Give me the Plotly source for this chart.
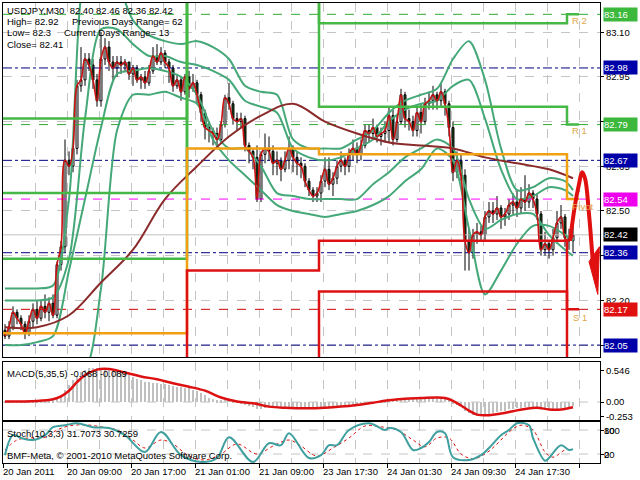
import plotly.graph_objects as go
from plotly.subplots import make_subplots

# ---------------- data ----------------
bar_idx = list(range(143))
opens = [82.10,82.08,82.11,82.16,82.14,82.12,82.09,82.13,82.17,82.14,82.18,82.16,82.19,82.15,82.32,82.38,82.67,82.65,82.71,82.92,
         82.94,83.01,82.99,82.94,82.87,83.01,83.05,83.00,82.98,83.00,82.99,83.00,82.96,82.98,82.94,82.95,82.93,82.97,83.02,83.00,
         83.03,83.00,82.98,82.92,82.94,82.90,82.95,82.91,82.93,82.89,82.83,82.78,82.77,82.76,82.74,82.79,82.88,82.86,82.81,82.80,
         82.81,82.72,82.70,82.68,82.54,82.69,82.71,82.70,82.66,82.67,82.64,82.67,82.71,82.68,82.66,82.65,82.60,82.57,82.55,82.56,
         82.60,82.64,82.59,82.61,82.65,82.67,82.65,82.69,82.71,82.69,82.72,82.77,82.76,82.78,82.75,82.76,82.77,82.82,82.74,82.80,
         82.89,82.81,82.80,82.77,82.83,82.80,82.86,82.87,82.89,82.87,82.90,82.86,82.78,82.63,82.67,82.62,82.40,82.36,82.42,82.43,
         82.42,82.48,82.50,82.49,82.51,82.48,82.49,82.52,82.53,82.51,82.54,82.53,82.56,82.54,82.49,82.37,82.39,82.37,82.41,82.46,
         82.48,82.41,82.40]
highs = [82.12,82.13,82.18,82.17,82.15,82.13,82.15,82.19,82.20,82.20,82.22,82.21,82.22,82.33,82.40,82.74,82.70,82.73,82.94,83.05,
         83.03,83.03,83.01,82.96,83.10,83.08,83.07,83.02,83.02,83.02,83.01,83.00,82.99,82.99,82.96,82.97,82.99,83.05,83.06,83.05,
         83.04,83.01,82.99,82.96,82.95,82.96,82.97,82.96,82.94,82.90,82.84,82.80,82.78,82.78,82.80,82.89,82.93,82.87,82.83,82.83,
         82.82,82.73,82.71,82.72,82.70,82.76,82.75,82.72,82.70,82.68,82.70,82.75,82.72,82.70,82.68,82.66,82.61,82.58,82.58,82.62,
         82.68,82.68,82.63,82.67,82.70,82.68,82.71,82.74,82.73,82.74,82.79,82.79,82.81,82.79,82.78,82.80,82.85,82.84,82.82,82.91,
         82.90,82.84,82.82,82.85,82.86,82.88,82.90,82.92,82.90,82.93,82.91,82.87,82.80,82.70,82.69,82.64,82.44,82.44,82.46,82.45,
         82.50,82.53,82.53,82.55,82.52,82.51,82.54,82.56,82.57,82.58,82.62,82.59,82.57,82.56,82.50,82.43,82.40,82.44,82.50,82.52,
         82.49,82.44,82.46]
lows = [82.07,82.07,82.10,82.12,82.10,82.07,82.08,82.11,82.12,82.13,82.14,82.13,82.14,82.14,82.30,82.36,82.62,82.63,82.69,82.90,
        82.92,82.97,82.91,82.85,82.85,82.99,82.97,82.94,82.95,82.96,82.97,82.94,82.92,82.93,82.91,82.91,82.92,82.96,82.99,82.99,
        82.98,82.93,82.90,82.91,82.87,82.89,82.88,82.90,82.86,82.80,82.74,82.73,82.72,82.71,82.73,82.78,82.84,82.79,82.77,82.78,
        82.70,82.66,82.64,82.53,82.53,82.66,82.67,82.62,82.62,82.60,82.63,82.64,82.63,82.62,82.61,82.58,82.55,82.53,82.53,82.53,
        82.58,82.57,82.55,82.59,82.63,82.62,82.63,82.67,82.66,82.67,82.71,82.73,82.74,82.73,82.72,82.73,82.73,82.72,82.73,82.79,
        82.78,82.77,82.75,82.75,82.76,82.79,82.84,82.84,82.84,82.85,82.82,82.75,82.60,82.61,82.60,82.30,82.30,82.34,82.39,82.40,
        82.40,82.46,82.46,82.47,82.44,82.45,82.47,82.49,82.48,82.49,82.50,82.51,82.51,82.47,82.35,82.35,82.34,82.35,82.39,82.44,
        82.38,82.37,82.36]
closes = [82.08,82.11,82.16,82.14,82.12,82.09,82.13,82.17,82.14,82.18,82.16,82.19,82.15,82.32,82.38,82.67,82.65,82.71,82.92,82.94,
          83.01,82.99,82.94,82.87,83.01,83.05,83.00,82.98,83.00,82.99,83.00,82.96,82.98,82.94,82.95,82.93,82.97,83.02,83.00,83.03,
          83.00,82.98,82.92,82.94,82.90,82.95,82.91,82.93,82.89,82.83,82.78,82.77,82.76,82.74,82.79,82.88,82.86,82.81,82.80,82.81,
          82.72,82.70,82.68,82.54,82.69,82.71,82.70,82.66,82.67,82.64,82.67,82.71,82.68,82.66,82.65,82.60,82.57,82.55,82.56,82.60,
          82.64,82.59,82.61,82.65,82.67,82.65,82.69,82.71,82.69,82.72,82.77,82.76,82.78,82.75,82.76,82.77,82.82,82.74,82.80,82.89,
          82.81,82.80,82.77,82.83,82.80,82.86,82.87,82.89,82.87,82.90,82.86,82.78,82.63,82.67,82.62,82.40,82.36,82.42,82.43,82.42,
          82.48,82.50,82.49,82.51,82.48,82.49,82.52,82.53,82.51,82.54,82.53,82.56,82.54,82.49,82.37,82.39,82.37,82.41,82.46,82.48,
          82.41,82.40,82.42]

# band / moving-average curves read at every 4th bar
band_bars = [0,4,8,12,16,20,24,28,32,36,40,44,48,52,56,60,64,68,72,76,80,84,88,92,96,100,104,108,112,116,120,124,128,132,136,140,142]
upper_outer = [82.24,82.24,82.24,82.25,82.54,83.31,83.41,83.28,83.14,83.09,83.07,83.06,83.07,83.05,83.01,82.92,82.90,82.89,82.74,82.71,
               82.71,82.71,82.74,82.77,82.83,82.87,82.89,82.91,83.01,83.07,82.94,82.71,82.57,82.58,82.61,82.60,82.57]
upper_inner = [82.20,82.20,82.20,82.21,82.34,82.81,83.11,83.11,83.06,83.02,83.02,83.00,82.99,82.97,82.94,82.87,82.85,82.83,82.71,82.68,
               82.67,82.68,82.71,82.74,82.80,82.84,82.86,82.87,82.92,82.94,82.81,82.64,82.54,82.55,82.58,82.57,82.55]
lower_inner = [82.05,82.05,82.06,82.08,82.30,82.54,82.78,82.96,82.97,82.98,82.97,82.95,82.89,82.77,82.71,82.71,82.65,82.56,82.55,82.54,
               82.54,82.54,82.54,82.59,82.63,82.68,82.71,82.74,82.71,82.54,82.44,82.47,82.49,82.49,82.42,82.37,82.35]
lower_outer = [81.97,81.97,81.97,81.97,81.97,81.97,82.24,82.77,82.89,82.89,82.90,82.88,82.86,82.74,82.67,82.62,82.57,82.52,82.50,82.49,
               82.48,82.49,82.50,82.52,82.55,82.60,82.64,82.71,82.67,82.44,82.22,82.30,82.39,82.45,82.45,82.42,82.40]
ma_bars = [0,8,16,24,32,40,48,56,64,72,80,88,96,104,112,120,128,136,142]
ma_slow = [82.11,82.11,82.15,82.26,82.37,82.54,82.65,82.75,82.82,82.86,82.80,82.76,82.73,82.72,82.71,82.68,82.66,82.64,82.61]

# daily pivot levels (step lines)
day_edges = [-0.5, 45.5, 78.5, 140.5, 143.5]
pivot_lv = [82.09, 82.71, 82.69, 82.54, 82.54]
r1_lv = [82.34, 83.35, 82.85, 82.79, 82.79]
r2_lv = [82.56, 83.60, 83.13, 83.16, 83.16]
r3_lv = [82.81, 83.90, 83.40, 83.45, 83.45]
s1_lv = [81.70, 82.30, 82.40, 82.17, 82.17]
s2_lv = [81.40, 81.68, 82.23, 81.90, 81.90]

hline_levels = [83.16, 82.98, 82.79, 82.67, 82.54, 82.36, 82.17, 82.05]
hline_kinds = ["green", "navy", "green", "navy", "magenta", "navy", "red", "navy"]
current_price = 82.42

arrow_x = [141.25, 142.5, 143.5, 144.25, 145.0, 146.0, 147.0]
arrow_y = [82.40, 82.52, 82.59, 82.63, 82.61, 82.49, 82.32]
arrow_head_x = [146.0, 148.6, 148.2, 146.0]
arrow_head_y = [82.33, 82.38, 82.22, 82.33]

macd_main = [0.02,0.02,0.02,0.02,0.02,0.02,0.02,0.02,0.02,0.02,0.02,0.02,0.03,0.06,0.12,0.22,0.30,0.38,0.46,0.52,
             0.56,0.59,0.60,0.60,0.59,0.59,0.58,0.56,0.54,0.52,0.50,0.47,0.44,0.41,0.38,0.36,0.35,0.34,0.33,0.32,
             0.31,0.30,0.28,0.27,0.26,0.25,0.24,0.22,0.20,0.16,0.12,0.08,0.05,0.03,0.03,0.04,0.04,0.03,0.01,-0.02,
             -0.05,-0.07,-0.09,-0.12,-0.12,-0.11,-0.11,-0.11,-0.11,-0.11,-0.10,-0.10,-0.10,-0.10,-0.10,-0.11,-0.12,-0.12,-0.12,-0.11,
             -0.10,-0.10,-0.09,-0.09,-0.08,-0.07,-0.06,-0.05,-0.04,-0.03,-0.02,-0.01,0.00,0.01,0.02,0.03,0.04,0.05,0.06,0.06,
             0.07,0.07,0.06,0.06,0.06,0.07,0.07,0.08,0.08,0.08,0.07,0.04,-0.02,-0.05,-0.07,-0.15,-0.20,-0.23,-0.24,-0.24,
             -0.23,-0.21,-0.19,-0.17,-0.16,-0.15,-0.13,-0.12,-0.11,-0.10,-0.09,-0.08,-0.08,-0.09,-0.12,-0.13,-0.14,-0.13,-0.12,-0.10,
             -0.10,-0.09,-0.07]
sig_bars = [0,8,12,14,16,18,20,23,26,30,34,38,42,46,50,54,58,62,66,70,76,80,84,88,92,96,100,104,108,110,112,114,116,118,121,124,127,130,133,136,139,142]
macd_signal = [0.01,0.02,0.05,0.10,0.20,0.35,0.47,0.57,0.58,0.52,0.45,0.40,0.33,0.27,0.20,0.08,0.01,-0.02,-0.08,-0.10,-0.11,-0.10,-0.08,-0.05,
               -0.01,0.03,0.06,0.07,0.08,0.07,0.02,-0.06,-0.15,-0.22,-0.23,-0.20,-0.16,-0.12,-0.10,-0.13,-0.13,-0.09]

stoch_bars = [0,2,4,7,10,12,15,18,22,26,30,35,39,44,49,53,56,62,66,69,71,76,79,81,83,86,91,95,96,99,102,104,106,108,110,112,116,119,121,124,126,128,131,132,135,136,139,141,142]
stoch_main = [17,67,60,55,67,87,92,97,87,85,67,25,75,17,0,10,62,0,47,42,72,10,17,42,42,80,97,80,85,75,30,35,50,75,72,12,5,17,35,67,80,97,92,60,3,10,42,30,32]
stsig_bars = [0,3,6,10,13,16,20,24,28,32,35,39,42,46,50,54,58,63,67,71,74,78,82,86,90,94,98,102,105,108,111,114,117,120,123,126,129,132,135,137,140,142]
stoch_signal = [30,55,60,62,80,90,93,88,80,55,35,55,45,15,5,20,45,20,40,55,40,15,35,60,90,88,80,55,38,60,60,20,8,20,45,75,92,80,25,12,30,31]

xlabel_bars = [0, 16, 32, 48, 64, 80, 96, 112, 128]
xlabels = ["20 Jan 2011", "20 Jan 09:00", "20 Jan 17:00", "21 Jan 01:00", "21 Jan 09:00",
           "23 Jan 17:30", "24 Jan 01:30", "24 Jan 09:30", "24 Jan 17:30"]

# ---------------- figure ----------------
FONT = "Liberation Sans, Arial, sans-serif"
FS = 9.5
GREEN = "#45b845"
BAND = "#45a878"
GRID = "#c4c4c4"
PLOT_L, PLOT_W, PLOT_BOT, PLOT_H = 3, 597, 463, 460

def px_x(p):
    return (p - PLOT_L) / PLOT_W

def px_y(p):
    return (PLOT_BOT - p) / PLOT_H

fig = make_subplots(rows=3, cols=1, shared_xaxes=True, vertical_spacing=0.01)

kind_style = {"green": ("#33aa33", "dash"), "navy": ("#000080", "dashdot"),
              "magenta": ("#ff00ff", "dash"), "red": ("#cc0000", "dash")}
for lv, kd in zip(hline_levels, hline_kinds):
    col, dsh = kind_style[kd]
    fig.add_trace(go.Scatter(x=[-0.5, 148.75], y=[lv, lv], mode="lines",
                             line=dict(color=col, width=1, dash=dsh), hoverinfo="skip",
                             showlegend=False), row=1, col=1)
fig.add_trace(go.Scatter(x=[-0.5, 148.75], y=[current_price, current_price], mode="lines",
                         line=dict(color="#c0c0c0", width=1), showlegend=False), row=1, col=1)

fig.add_trace(go.Candlestick(x=bar_idx, open=opens, high=highs, low=lows, close=closes,
                             increasing=dict(line=dict(color="black", width=1), fillcolor="white"),
                             decreasing=dict(line=dict(color="black", width=1), fillcolor="#1e4d1e"),
                             whiskerwidth=0, showlegend=False), row=1, col=1)

for arr in (upper_outer, upper_inner, lower_inner, lower_outer):
    fig.add_trace(go.Scatter(x=band_bars, y=arr, mode="lines", line=dict(color=BAND, width=2, shape="spline", smoothing=0.8),
                             showlegend=False), row=1, col=1)
fig.add_trace(go.Scatter(x=ma_bars, y=ma_slow, mode="lines", line=dict(color="#8b2a2a", width=2, shape="spline"),
                         showlegend=False), row=1, col=1)
fig.add_trace(go.Scatter(x=bar_idx, y=closes, mode="lines", line=dict(color="#cc1111", width=1.6, shape="spline", smoothing=1.2),
                         showlegend=False), row=1, col=1)

for lv, col in ((r3_lv, GREEN), (r2_lv, GREEN), (r1_lv, GREEN), (pivot_lv, "#f0a010"),
                (s1_lv, "#dd1111"), (s2_lv, "#dd1111")):
    fig.add_trace(go.Scatter(x=day_edges, y=lv, mode="lines", line=dict(color=col, width=2.5, shape="hv"),
                             showlegend=False), row=1, col=1)

fig.add_trace(go.Scatter(x=arrow_x, y=arrow_y, mode="lines", line=dict(color="#e01010", width=4, shape="spline"),
                         showlegend=False), row=1, col=1)
fig.add_trace(go.Scatter(x=arrow_head_x, y=arrow_head_y, mode="lines", fill="toself", fillcolor="#e01010",
                         line=dict(color="#e01010", width=1), showlegend=False), row=1, col=1)

fig.add_trace(go.Bar(x=bar_idx, y=macd_main, marker=dict(color="#c0c0c0", line=dict(width=0)), width=0.55,
                     showlegend=False), row=2, col=1)
fig.add_trace(go.Scatter(x=[-0.5, 148.75], y=[0, 0], mode="lines", line=dict(color=GRID, width=1, dash="dash"),
                         showlegend=False), row=2, col=1)
fig.add_trace(go.Scatter(x=sig_bars, y=macd_signal, mode="lines", line=dict(color="#dd1111", width=2.5, shape="spline"),
                         showlegend=False), row=2, col=1)

for lv in (80, 20):
    fig.add_trace(go.Scatter(x=[-0.5, 148.75], y=[lv, lv], mode="lines", line=dict(color=GRID, width=1, dash="dash"),
                             showlegend=False), row=3, col=1)
fig.add_trace(go.Scatter(x=stsig_bars, y=stoch_signal, mode="lines", line=dict(color="#dd1111", width=1, dash="dot", shape="spline"),
                         showlegend=False), row=3, col=1)
fig.add_trace(go.Scatter(x=stoch_bars, y=stoch_main, mode="lines", line=dict(color="#3f9f9f", width=2, shape="spline"),
                         showlegend=False), row=3, col=1)

xcommon = dict(range=[-0.5, 148.75], tickmode="linear", tick0=-0.5, dtick=16, showgrid=True, gridcolor=GRID,
               griddash="dash", gridwidth=1, minor=dict(tick0=-0.5, dtick=8, showgrid=True, gridcolor=GRID, griddash="dash"),
               showline=True, linecolor="black", linewidth=1, mirror=True, zeroline=False, showticklabels=False)
fig.update_xaxes(**xcommon)
fig.update_xaxes(rangeslider_visible=False, row=1, col=1)
fig.update_xaxes(ticks="outside", ticklen=4, tickcolor="black", row=3, col=1)

main_ticks = [83.10, 82.95, 82.80, 82.65, 82.50, 82.35, 82.20, 82.05]
fig.update_layout(
    width=640, height=480, margin=dict(l=3, r=40, t=3, b=17, autoexpand=False),
    paper_bgcolor="white", plot_bgcolor="white", bargap=0,
    font=dict(family=FONT, size=FS, color="black"),
    yaxis=dict(domain=[px_y(357), 1], range=[82.010, 83.198], side="right", tickvals=main_ticks,
               ticktext=["%.2f" % v for v in main_ticks], ticks="outside", ticklen=3, tickcolor="black",
               showgrid=True, gridcolor=GRID, griddash="dash", showline=True, linecolor="black", mirror=True,
               zeroline=False, tickfont=dict(family=FONT, size=FS)),
    yaxis2=dict(domain=[px_y(420), px_y(362)], range=[-0.315, 0.704], side="right", tickvals=[0.546, 0.0, -0.253],
                ticktext=["0.546", "0.00", "-0.253"], ticks="outside", ticklen=3, tickcolor="black", showgrid=False,
                showline=True, linecolor="black", mirror=True, zeroline=False, tickfont=dict(family=FONT, size=FS)),
    yaxis3=dict(domain=[0, px_y(422)], range=[-2.5, 100], side="right", tickvals=[80, 20], ticktext=["", ""],
                ticks="outside", ticklen=3, tickcolor="black", showgrid=False, showline=True, linecolor="black",
                mirror=True, zeroline=False),
)

ann = []
def text(px, py, s, color="black", anchor="left", size=FS):
    ann.append(dict(xref="paper", yref="paper", x=px_x(px), y=px_y(py), text=s, showarrow=False,
                    xanchor=anchor, yanchor="middle", font=dict(family=FONT, size=size, color=color)))

text(5, 10, "USDJPY,M30  82.40 82.46 82.36 82.42")
text(5, 22, "High= 82.92")
text(70, 22, "Previous Days Range= 62")
text(5, 33, "Low= 82.3")
text(62, 33, "Current Days Range= 13")
text(5, 44, "Close= 82.41")
text(5, 373, "MACD(5,35,5) -0.068 -0.089")
text(5, 433, "Stoch(10,3,3) 31.7073 30.7259")
text(5, 455, "BMF-Meta, © 2001-2010 MetaQuotes Software Corp.")

LBL = "#e0a848"
text(570, 20, "R 2", LBL)
text(570, 131, "R 1", LBL)
text(570, 206, "Pivot", LBL)
text(571, 318, "S 1", LBL)

text(602, 430, "100")
text(602, 430, "80")
text(602, 454, "20")
text(602, 454, "0")

for b, s in zip(xlabel_bars, xlabels):
    ann.append(dict(xref="x3", yref="paper", x=b - 0.5, y=0, text=s, showarrow=False, xanchor="left",
                    yanchor="top", xshift=-2, yshift=-1, font=dict(family=FONT, size=FS, color="black")))

box_col = {"green": "#3cb83c", "navy": "#0000a8", "magenta": "#ee00ee", "red": "#e01010"}
for lv, kd in zip(hline_levels, hline_kinds):
    ann.append(dict(xref="paper", yref="y", x=1, y=lv, text="%.2f" % lv, showarrow=False, xanchor="left",
                    yanchor="middle", xshift=3, bgcolor=box_col[kd], width=33, height=13, borderpad=0, align="left",
                    font=dict(family=FONT, size=FS, color="white")))
ann.append(dict(xref="paper", yref="y", x=1, y=current_price, text="%.2f" % current_price, showarrow=False,
                xanchor="left", yanchor="middle", xshift=3, bgcolor="black", width=33, height=13, borderpad=0,
                align="left", font=dict(family=FONT, size=FS, color="white")))

fig.update_layout(annotations=ann)
fig.write_html("out.html", config={"displayModeBar": False},
               post_script="document.body.style.margin='0px';document.body.style.padding='0px';")
